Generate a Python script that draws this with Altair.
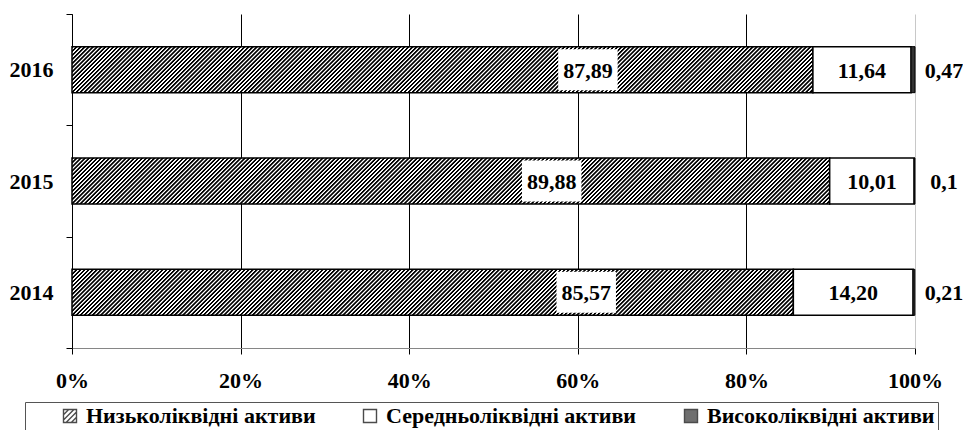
import altair as alt
import pandas as pd

# ---- data ----
years = ["2016", "2015", "2014"]
segments = ["Низьколіквідні активи", "Середньоліквідні активи", "Високоліквідні активи"]
low = [87.89, 89.88, 85.57]
mid = [11.64, 10.01, 14.20]
high = [0.47, 0.1, 0.21]
low_text = ["87,89", "89,88", "85,57"]
mid_text = ["11,64", "10,01", "14,20"]
high_text = ["0,47", "0,1", "0,21"]
low_label_at = [61.2, 56.9, 61.0]
x_ticks = [0, 20, 40, 60, 80, 100]

FONT = "Liberation Serif"
PLOT_W, PLOT_H = 843, 334
BAR = 46

# ---- tables built from the arrays ----
rows = []
for i, y in enumerate(years):
    rows.append(dict(year=y, seg="low", start=0.0, end=low[i]))
    rows.append(dict(year=y, seg="mid", start=low[i], end=low[i] + mid[i]))
    rows.append(dict(year=y, seg="high", start=low[i] + mid[i], end=low[i] + mid[i] + high[i]))
bars = pd.DataFrame(rows)
labels = pd.DataFrame(dict(year=years, low_at=low_label_at, low_text=low_text,
                           mid_at=[l + m / 2 for l, m in zip(low, mid)], mid_text=mid_text,
                           high_at=[100.0] * len(years), high_text=high_text))
legend_df = pd.DataFrame(dict(seg=segments))


# ---- hatch fill as a striped linear gradient (45 degree "/" stripes) ----
def hatch_for(share):
    W = PLOT_W * share / 100.0
    r = BAR / W
    ga = (1 + r) / (1 + r * r)
    gb = ga * r
    n = int(round((W + BAR) / 4.1))
    stops = []
    for i in range(n):
        stops.append({"offset": i / n, "color": "black"})
        stops.append({"offset": (i + 0.38) / n, "color": "black"})
        stops.append({"offset": (i + 0.56) / n, "color": "white"})
        stops.append({"offset": (i + 0.84) / n, "color": "white"})
    stops.append({"offset": 1.0, "color": "black"})
    return {"gradient": "linear", "x1": 0, "y1": 0, "x2": ga, "y2": gb, "stops": stops}


# ---- scales and axes ----
x_scale = alt.Scale(domain=[0, 100], nice=False, zero=True)
x_axis = alt.Axis(title=None, values=x_ticks, labelExpr="datum.value + '%'",
                  labelFont=FONT, labelFontSize=22, labelFontWeight="bold", labelColor="black",
                  labelPadding=16, labelFlush=False, tickSize=6, tickColor="black", tickWidth=1,
                  domainColor="#868686", domainWidth=1.2, grid=True, gridWidth=1,
                  gridColor={"condition": {"test": "datum.value >= 100", "value": "#c8c8c8"},
                             "value": "black"})
y_scale = alt.Scale(domain=years, paddingInner=0, paddingOuter=0)
y_axis = alt.Axis(title=None, labelFont=FONT, labelFontSize=22, labelFontWeight="bold",
                  labelColor="black", labelPadding=13, tickSize=6, tickBand="extent",
                  tickColor="black", tickWidth=1, domainColor="black", domainWidth=1, grid=False)
Y = alt.Y("year:N", scale=y_scale, axis=y_axis)


def X(field):
    return alt.X(field, type="quantitative", scale=x_scale, axis=x_axis)


low_layers = []
for i, y in enumerate(years):
    low_layers.append(
        alt.Chart(bars).transform_filter(f"datum.seg == 'low' && datum.year == '{y}'").mark_bar(
            fill=hatch_for(low[i]), stroke="black", strokeWidth=1.5, size=BAR
        ).encode(x=X("start"), x2="end", y=Y)
    )

mid_bars = alt.Chart(bars).transform_filter("datum.seg == 'mid'").mark_bar(
    fill="white", stroke="black", strokeWidth=1.5, size=BAR
).encode(x=X("start"), x2="end", y=Y)

high_bars = alt.Chart(bars).transform_filter("datum.seg == 'high'").mark_bar(
    fill="#333333", stroke="black", strokeWidth=1, size=BAR
).encode(x=X("start"), x2="end", y=Y)

box = alt.Chart(labels).mark_point(
    shape="M-1.45,-1H1.45V1H-1.45Z", size=41 * 41, filled=True, fill="white",
    strokeWidth=0, opacity=1
).encode(x=X("low_at"), y=Y)

txt_style = dict(font=FONT, fontSize=22, fontWeight="bold", color="black",
                 baseline="middle", align="center", dy=1)
low_txt = alt.Chart(labels).mark_text(**txt_style).encode(x=X("low_at"), y=Y, text="low_text:N")
mid_txt = alt.Chart(labels).mark_text(**txt_style).encode(x=X("mid_at"), y=Y, text="mid_text:N")
high_txt = alt.Chart(labels).mark_text(**{**txt_style, "dx": 29}).encode(
    x=X("high_at"), y=Y, text="high_text:N")

hatch_path = ("M-1,-1H1V1H-1Z M-1,-0.2L-0.2,-1 M-1,0.6L0.6,-1 "
              "M-0.6,1L1,-0.6 M0.2,1L1,0.2")
legend = alt.Legend(title=" ", titleOrient="left", titlePadding=31, titleFontSize=10,
                    orient="none", legendX=-47, legendY=388, direction="horizontal", columns=3,
                    symbolSize=169, symbolStrokeColor="black", symbolStrokeWidth=1.4,
                    labelFont=FONT, labelFontSize=22, labelFontWeight="bold", labelColor="black",
                    labelOffset=5, labelLimit=500, columnPadding=43, padding=3,
                    strokeColor="#555555")
legend_layer = alt.Chart(legend_df).mark_point(
    filled=True, size=0, stroke="black", strokeWidth=1.4
).encode(
    x=alt.value(0), y=alt.value(0),
    color=alt.Color("seg:N", scale=alt.Scale(domain=segments, range=["white", "white", "#333333"]),
                    legend=legend),
    shape=alt.Shape("seg:N", scale=alt.Scale(domain=segments, range=[hatch_path, "square", "square"]),
                    legend=legend),
)

chart = alt.layer(
    *low_layers, mid_bars, high_bars, box, low_txt, mid_txt, high_txt, legend_layer
).properties(
    width=PLOT_W, height=PLOT_H,
    autosize=alt.AutoSizeParams(type="none"),
    padding={"top": 6, "left": 64, "right": 48, "bottom": 82},
).configure_view(stroke=None)

chart.save("out.html", embed_options={"renderer": "svg", "actions": False})
